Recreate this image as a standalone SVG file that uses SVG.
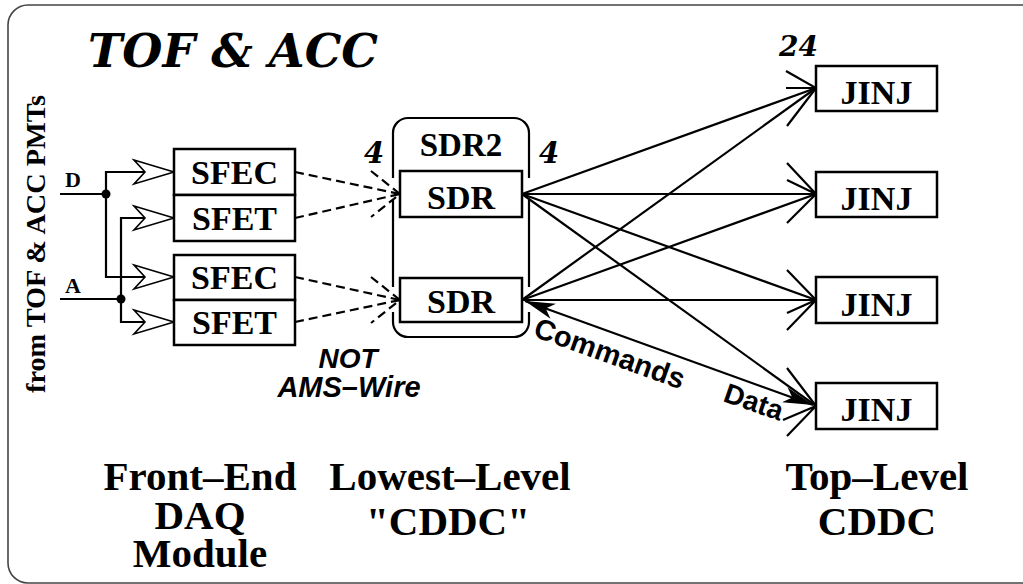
<svg xmlns="http://www.w3.org/2000/svg" width="1023" height="584" viewBox="0 0 1023 584">
<style>
.box{fill:#fff;stroke:#000;stroke-width:2.5}
.lbl{font-family:"Liberation Serif","Times New Roman",serif;font-weight:bold;fill:#000;text-anchor:middle}
.bi{font-family:"DejaVu Serif",serif;font-weight:bold;font-style:italic;fill:#000}
.sans{font-family:"Liberation Sans",Arial,sans-serif;font-weight:bold;fill:#000}
.ln{fill:none;stroke:#000;stroke-width:2.2}
.dash{fill:none;stroke:#000;stroke-width:2.2;stroke-dasharray:9 5}
</style>
<defs>
<marker id="openHead" markerUnits="userSpaceOnUse" markerWidth="50" markerHeight="30" viewBox="-45 -15 50 30" refX="0" refY="0" orient="auto" overflow="visible">
<path d="M-40,-12 L0,0 L-40,12 L-29,0 Z" fill="#fff" stroke="#000" stroke-width="1.6" stroke-linejoin="miter"/>
</marker>
<marker id="solidHead" markerUnits="userSpaceOnUse" markerWidth="40" markerHeight="20" viewBox="-35 -10 40 20" refX="0" refY="0" orient="auto-start-reverse" overflow="visible">
<path d="M0,0 L-30,-8 L-22,0 L-30,8 Z" fill="#000"/>
</marker>
</defs>
<rect width="1023" height="584" fill="#fff"/>
<rect x="8" y="5" width="1040" height="578" rx="20" ry="20" fill="none" stroke="#444" stroke-width="1.6"/>

<text class="bi" x="88" y="67" font-size="46" textLength="290" lengthAdjust="spacingAndGlyphs">TOF &amp; ACC</text>
<text class="lbl" font-size="28" transform="translate(45,244) rotate(-90)" textLength="298" lengthAdjust="spacingAndGlyphs">from TOF &amp; ACC PMTs</text>
<text class="lbl" x="73" y="187" font-size="22">D</text>
<text class="lbl" x="73" y="293" font-size="22">A</text>

<g id="connectors">
<path class="ln" d="M60,194 H106"/>
<path class="ln" d="M106,194 V172 H174" marker-end="url(#openHead)"/>
<path class="ln" d="M106,194 V277 H174" marker-end="url(#openHead)"/>
<path class="ln" d="M60,299 H121"/>
<path class="ln" d="M121,299 V218 H174" marker-end="url(#openHead)"/>
<path class="ln" d="M121,299 V322 H174" marker-end="url(#openHead)"/>
<circle cx="106" cy="194" r="4.5" fill="#000"/>
<circle cx="121" cy="299" r="4.5" fill="#000"/>

<path class="dash" d="M295,172 L400,194"/>
<path class="dash" d="M295,218 L400,194"/>
<path class="dash" d="M371,171 L400,194 L371,217"/>
<path class="dash" d="M295,277 L400,300"/>
<path class="dash" d="M295,322 L400,300"/>
<path class="dash" d="M371,277 L400,300 L371,323"/>

<path class="ln" d="M522,194 L816,88"/>
<path class="ln" d="M522,194 L816,194"/>
<path class="ln" d="M522,194 L816,300"/>
<path class="ln" d="M522,194 L816,406"/>
<path class="ln" d="M522,300 L816,88"/>
<path class="ln" d="M522,300 L816,194"/>
<path class="ln" d="M522,300 L816,300"/>
<path class="ln" d="M525,301 L813,405" marker-start="url(#solidHead)" marker-end="url(#solidHead)"/>

<path class="ln" d="M786,71 L816,88 L787,126 M786,88 L816,88"/>
<path class="ln" d="M787,163 L816,194 L787,223 M787,180 L816,194"/>
<path class="ln" d="M787,270 L816,300 L787,330 M787,313 L816,300"/>
<path class="ln" d="M787,368 L816,406 L787,436 M783,420 L816,406"/>

<text class="sans" font-size="29" transform="translate(532,336) rotate(19.8)">Commands</text>
<text class="sans" font-size="28" transform="translate(722,401) rotate(19)">Data</text>
</g>

<g id="sfec1"><rect class="box" x="174" y="149" width="121" height="46"/><text class="lbl" x="234.5" y="184" font-size="34">SFEC</text></g>
<g id="sfet1"><rect class="box" x="174" y="195" width="121" height="46"/><text class="lbl" x="234.5" y="230" font-size="34">SFET</text></g>
<g id="sfec2"><rect class="box" x="174" y="255" width="121" height="45"/><text class="lbl" x="234.5" y="289" font-size="34">SFEC</text></g>
<g id="sfet2"><rect class="box" x="174" y="300" width="121" height="45"/><text class="lbl" x="234.5" y="334" font-size="34">SFET</text></g>

<g id="sdr2">
<path d="M393,133 V178 M393,200 V287 M393,312 V322 A15,15 0 0 0 408,337 H514 A15,15 0 0 0 529,322 V312 M529,287 V200 M529,178 V133 A15,15 0 0 0 514,118 H408 A15,15 0 0 0 393,133" fill="none" stroke="#000" stroke-width="2.2"/>
<text class="lbl" x="461" y="156" font-size="33">SDR2</text>
</g>
<g id="sdr1"><rect class="box" x="400" y="171" width="122" height="46"/><text class="lbl" x="461" y="209" font-size="34">SDR</text></g>
<g id="sdrb"><rect class="box" x="400" y="278" width="122" height="44"/><text class="lbl" x="461" y="313" font-size="34">SDR</text></g>

<text class="bi" x="364" y="163" font-size="29">4</text>
<text class="bi" x="539" y="163" font-size="29">4</text>
<text class="bi" x="779" y="56" font-size="28">24</text>

<g id="jinj1"><rect class="box" x="816" y="66" width="121" height="45"/><text class="lbl" x="876.5" y="104" font-size="34">JINJ</text></g>
<g id="jinj2"><rect class="box" x="816" y="172" width="121" height="45"/><text class="lbl" x="876.5" y="210" font-size="34">JINJ</text></g>
<g id="jinj3"><rect class="box" x="816" y="277" width="121" height="46"/><text class="lbl" x="876.5" y="316" font-size="34">JINJ</text></g>
<g id="jinj4"><rect class="box" x="816" y="383" width="121" height="46"/><text class="lbl" x="876.5" y="421" font-size="34">JINJ</text></g>

<text class="sans" font-style="italic" x="348" y="368" font-size="28" text-anchor="middle">NOT</text>
<text class="sans" font-style="italic" x="349" y="397" font-size="29" text-anchor="middle">AMS–Wire</text>

<text class="lbl" x="200" y="490" font-size="41">Front–End</text>
<text class="lbl" x="200" y="529" font-size="41">DAQ</text>
<text class="lbl" x="200" y="567" font-size="41">Module</text>
<text class="lbl" x="450" y="490" font-size="41">Lowest–Level</text>
<text class="lbl" x="448" y="535" font-size="41">"CDDC"</text>
<text class="lbl" x="877" y="490" font-size="41">Top–Level</text>
<text class="lbl" x="877" y="535" font-size="41">CDDC</text>
</svg>
